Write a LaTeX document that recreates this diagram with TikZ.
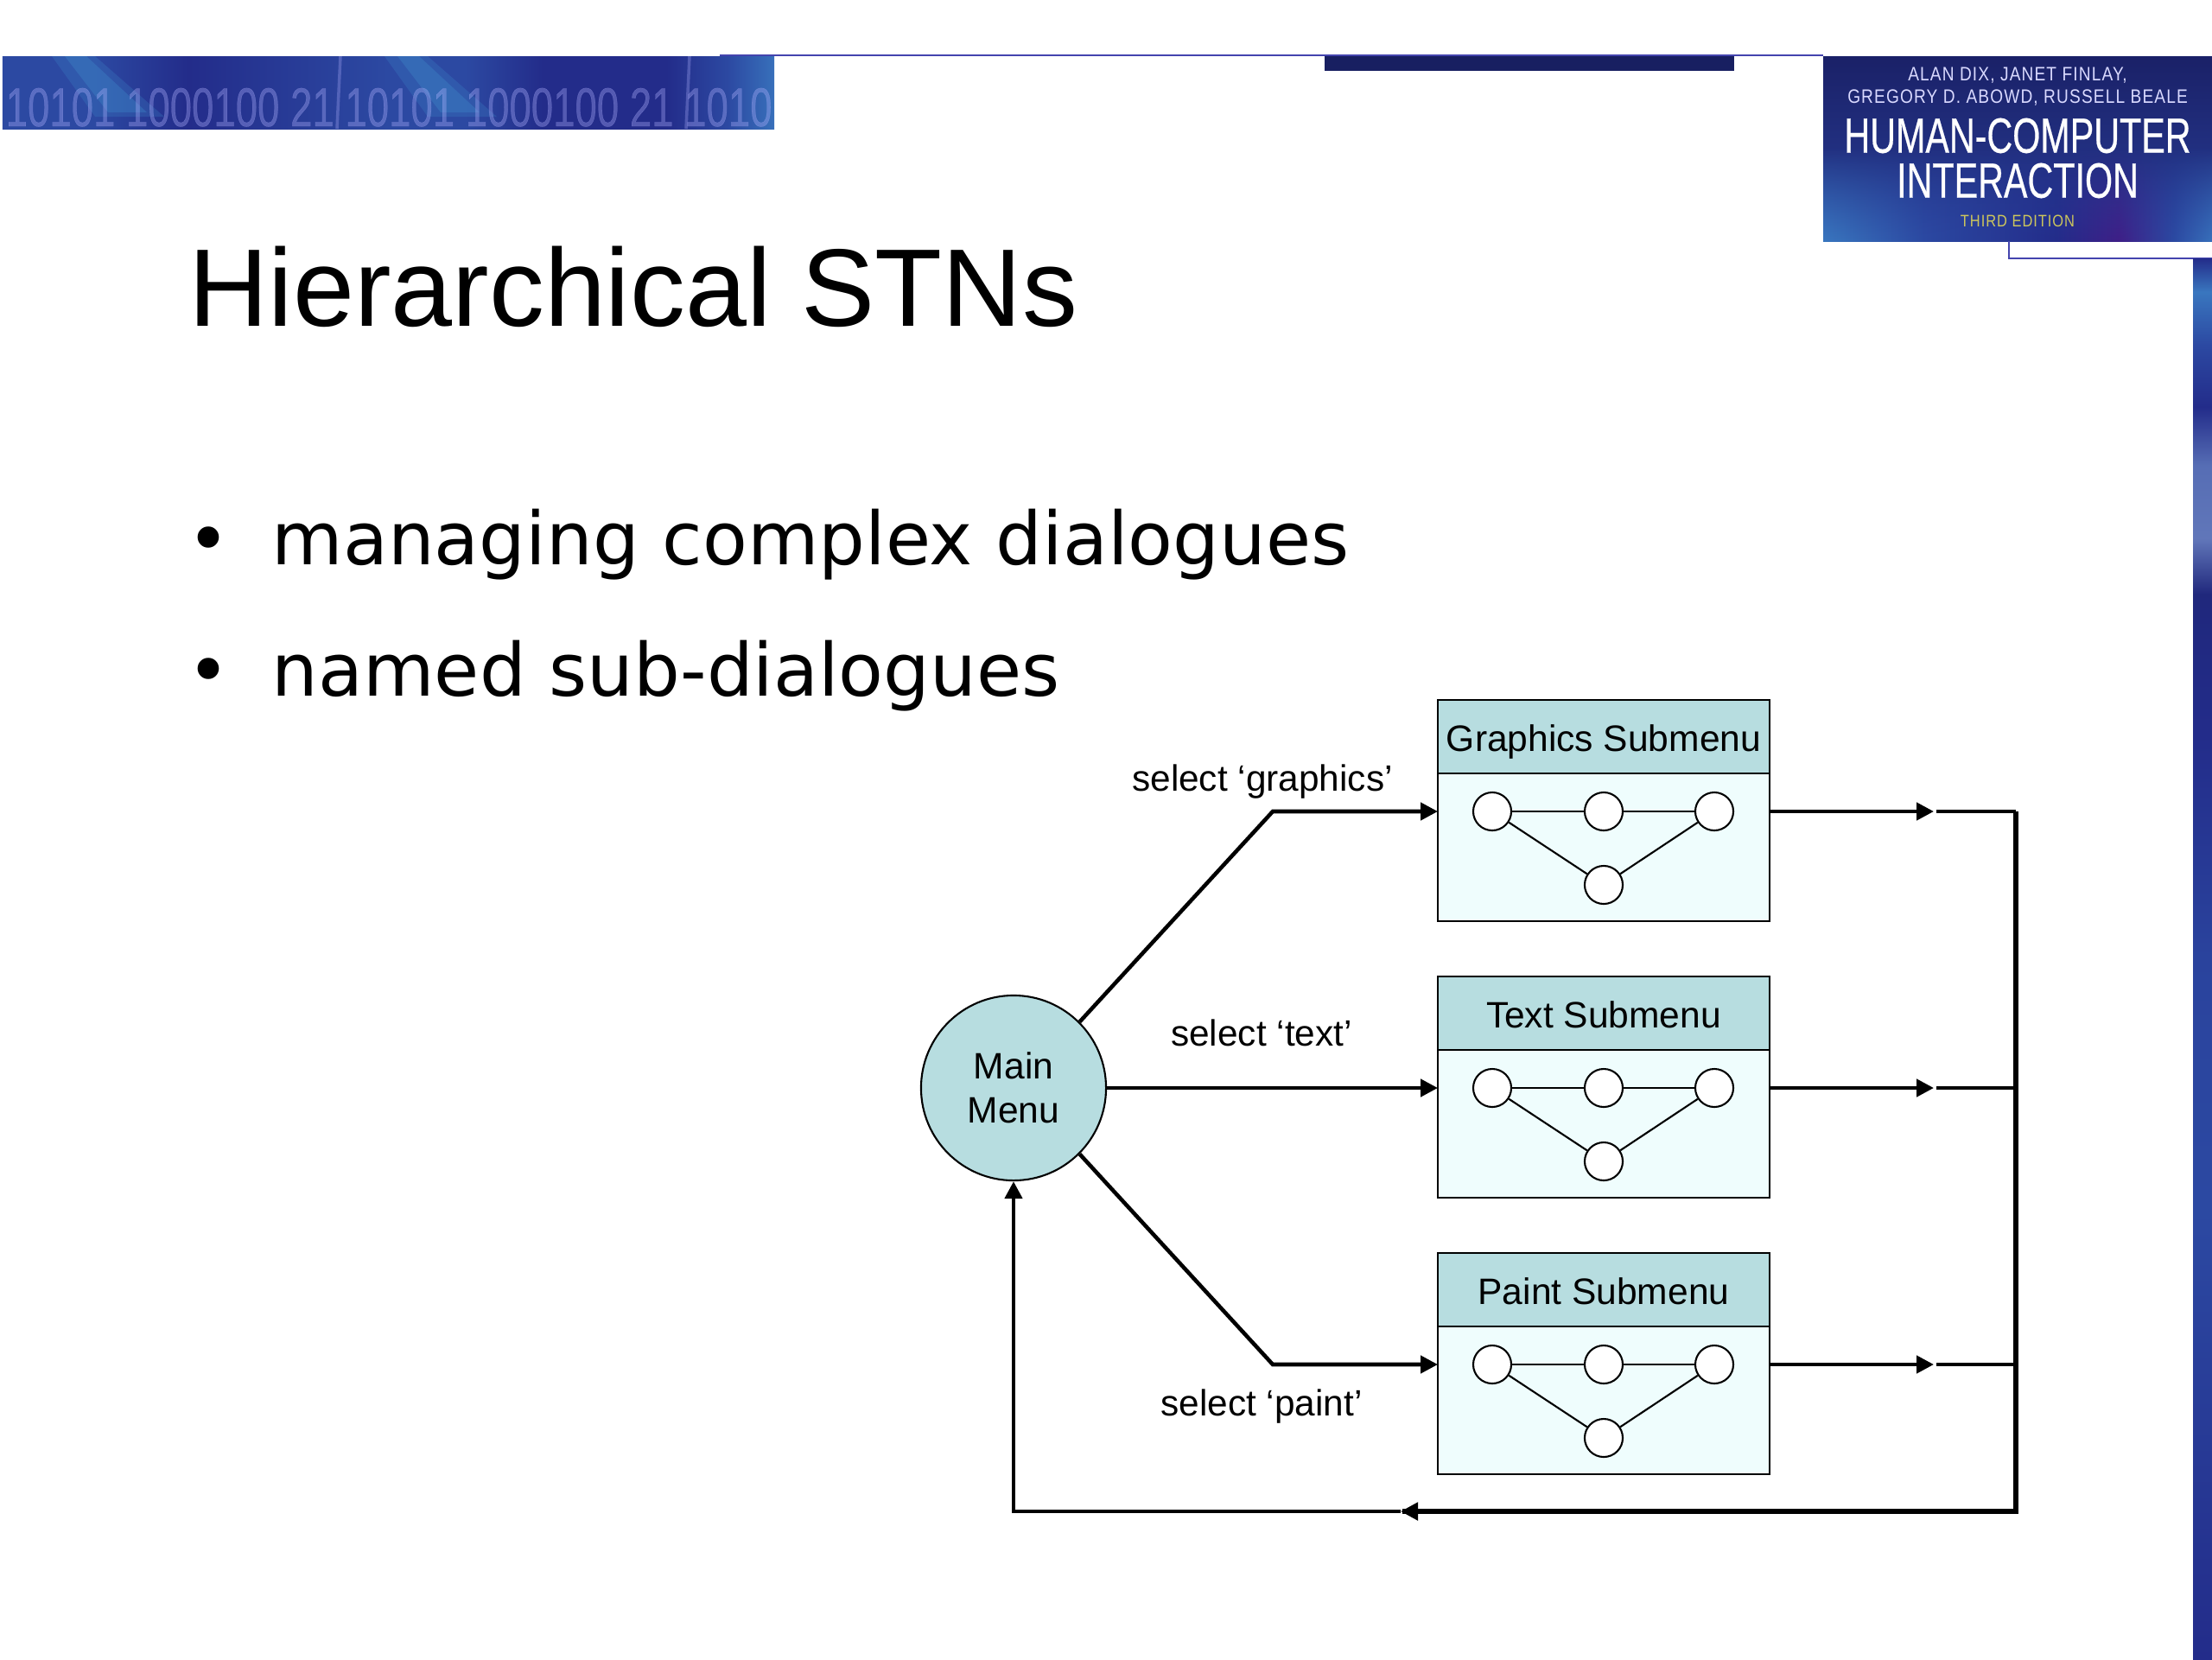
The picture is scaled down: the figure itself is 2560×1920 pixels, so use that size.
\documentclass[tikz,border=0pt]{standalone}
\usepackage{fontspec}
\setmainfont{Liberation Sans}
\newfontfamily\bulletfont{DejaVu Sans}
\newfontfamily\coverfont[FakeStretch=0.72,FakeBold=0.4]{Liberation Sans}
\newfontfamily\authorfont[FakeStretch=0.85,LetterSpace=5]{Liberation Sans}
\usetikzlibrary{arrows.meta,fadings}
\definecolor{headcolor}{HTML}{B7DDE0}
\definecolor{bodycolor}{HTML}{EFFDFD}
\definecolor{rulecolor}{HTML}{4444AE}
\definecolor{bannercolor}{HTML}{2C49A2}
\definecolor{covercolor}{HTML}{232C8A}
\definecolor{streakcolor}{HTML}{3F8ACB}
\pgfdeclarehorizontalshading{bannershade}{100bp}{
	color(0bp)=(bannercolor); color(25bp)=(bannercolor); color(31bp)=(bannercolor);
	color(37bp)=(covercolor); color(46bp)=(bannercolor!70!covercolor); color(50bp)=(bannercolor);
	color(55bp)=(bannercolor); color(60bp)=(covercolor); color(68bp)=(covercolor);
	color(72bp)=(bannercolor); color(75bp)=(streakcolor!60!bannercolor); color(100bp)=(streakcolor!60!bannercolor)}
\pgfdeclareverticalshading{stripshade}{100bp}{
	color(0bp)=(bannercolor); color(25bp)=(covercolor); color(41bp)=(bannercolor);
	color(50bp)=(bannercolor!80!covercolor); color(58bp)=(covercolor);
	color(63bp)=(covercolor!90!black); color(65bp)=(bannercolor!75!white); color(67.6bp)=(bannercolor!80!white);
	color(69.7bp)=(covercolor); color(71.9bp)=(bannercolor); color(73.8bp)=(streakcolor!70!bannercolor);
	color(75bp)=(covercolor); color(100bp)=(covercolor)}
\pgfdeclarehorizontalshading{covershade}{100bp}{
	color(0bp)=(streakcolor!70!bannercolor); color(25bp)=(streakcolor!70!bannercolor); color(38bp)=(bannercolor);
	color(55bp)=(covercolor); color(63bp)=(covercolor!70!violet); color(70bp)=(bannercolor);
	color(75bp)=(streakcolor!60!bannercolor); color(100bp)=(streakcolor!60!bannercolor)}
\tikzset{
	submenuhead/.style={draw=black, line width=0.6pt, fill=headcolor, rectangle, minimum width=3.84cm, minimum height=0.85cm, inner sep=0pt, text height=0.35cm, text depth=0.02cm, font=\fontsize{12.1}{14.5}\selectfont},
	submenubody/.style={draw=black, line width=0.6pt, fill=bodycolor, rectangle, minimum width=3.84cm, minimum height=1.71cm, inner sep=0pt},
	substate/.style={draw=black, line width=0.6pt, fill=white, circle, minimum size=0.44cm, inner sep=0pt},
	subedge/.style={line width=0.6pt},
	flowline/.style={line width=1.3pt, line join=miter},
	trunkline/.style={line width=1.6pt, line join=miter},
	flowarrow/.style={line width=1.3pt, line join=miter, -{Triangle[length=0.2cm, width=0.2cm]}},
	flowlabel/.style={anchor=base, inner sep=0pt, font=\fontsize{12.05}{14.5}\selectfont},
	covertext/.style={inner sep=0pt, text=white, font=\coverfont\fontsize{#1}{#1}\selectfont},
	authortext/.style={inner sep=0pt, text=white!85!blue, font=\authorfont\fontsize{#1}{#1}\selectfont},
}

\begin{document}
\begin{tikzpicture}[x=0.01cm, y=-0.01cm]
			%%%%% START %%%%%
			
			\useasboundingbox (0, 0) rectangle (2560, 1920);
			\fill[white] (0, 0) rectangle (2560, 1920);
			
			\begin{scope}
				\clip (3, 65) rectangle (896, 149);
				\shade[shading=bannershade] (3, 65) rectangle (896, 149);
				\fill[streakcolor, opacity=0.25] (60, 65) -- (110, 65) -- (190, 135) -- (110, 135) -- cycle;
				\fill[streakcolor, opacity=0.35] (75, 65) -- (100, 65) -- (170, 130) -- (125, 130) -- cycle;
				\fill[streakcolor, opacity=0.25] (445, 65) -- (495, 65) -- (575, 135) -- (495, 135) -- cycle;
				\fill[streakcolor, opacity=0.35] (460, 65) -- (485, 65) -- (555, 130) -- (510, 130) -- cycle;
				\draw[line width=1pt, color=blue!30!white, opacity=0.3] (394, 65) -- (390, 149);
				\draw[line width=1pt, color=blue!30!white, opacity=0.3] (798, 65) -- (794, 149);
				\node[anchor=base west, inner sep=0pt, text=blue!30!white, opacity=0.35, font=\coverfont\fontsize{18}{18}\selectfont] (bannerdigits) at (6, 146) {10101 1000100 21 10101 1000100 21 10101};
			\end{scope}
			\draw[line width=0.8pt, color=rulecolor] (833, 64) -- (2110, 64);
			\fill[color=covercolor!70!black] (1533, 65) rectangle (2007, 82);
			
			\shade[top color=covercolor!75!black, bottom color=bannercolor!60!covercolor] (2110, 65) rectangle (2560, 279);
			\shade[shading=covershade, path fading=north] (2110, 170) rectangle (2560, 279);
			\node[authortext=6.4] (authorsa) at (2335, 87) {ALAN DIX, JANET FINLAY,};
			\node[authortext=6.4] (authorsb) at (2335, 113) {GREGORY D. ABOWD, RUSSELL BEALE};
			\node[covertext=16.3] (covertitlea) at (2335, 157) {HUMAN-COMPUTER};
			\node[covertext=16.3] (covertitleb) at (2335, 209) {INTERACTION};
			\node[authortext=5.5, text=yellow!55!gray] (edition) at (2335, 256) {THIRD EDITION};
			\draw[line width=0.8pt, color=rulecolor] (2325, 279) -- (2325, 299) -- (2560, 299);
			\shade[shading=stripshade] (2538, 299) rectangle (2560, 1920);
			
			\node[anchor=base west, inner sep=0pt, font=\fontsize{36.3}{36.3}\selectfont] (title) at (218, 377) {Hierarchical STNs};
			\node[anchor=base, inner sep=0pt, font=\bulletfont\fontsize{24.1}{24.1}\selectfont] (bulleta) at (241, 653) {•};
			\node[anchor=base west, inner sep=0pt, font=\bulletfont\fontsize{24.1}{24.1}\selectfont] (itema) at (314, 653) {managing complex dialogues};
			\node[anchor=base, inner sep=0pt, font=\bulletfont\fontsize{24.1}{24.1}\selectfont] (bulletb) at (241, 805) {•};
			\node[anchor=base west, inner sep=0pt, font=\bulletfont\fontsize{24.1}{24.1}\selectfont] (itemb) at (314, 805) {named sub-dialogues};
			
			\node[draw=black, line width=0.6pt, fill=headcolor, circle, minimum size=2.14cm, inner sep=0pt, align=center, font=\fontsize{12.1}{14.5}\selectfont] (mainmenu) at (1173, 1259) {Main\\Menu};
			
			\node[submenubody] (gbody) at (1856, 980.5) {};
			\node[submenuhead] (ghead) at (1856, 852.5) {Graphics Submenu};
			\node[substate] (ga) at (1727, 939) {};
			\node[substate] (gb) at (1856, 939) {};
			\node[substate] (gc) at (1984, 939) {};
			\node[substate] (gd) at (1856, 1024) {};
			\draw[subedge] (ga) -- (gb);
			\draw[subedge] (gb) -- (gc);
			\draw[subedge] (ga) -- (gd);
			\draw[subedge] (gc) -- (gd);
			
			\node[submenubody] (tbody) at (1856, 1300.5) {};
			\node[submenuhead] (thead) at (1856, 1172.5) {Text Submenu};
			\node[substate] (ta) at (1727, 1259) {};
			\node[substate] (tb) at (1856, 1259) {};
			\node[substate] (tc) at (1984, 1259) {};
			\node[substate] (td) at (1856, 1344) {};
			\draw[subedge] (ta) -- (tb);
			\draw[subedge] (tb) -- (tc);
			\draw[subedge] (ta) -- (td);
			\draw[subedge] (tc) -- (td);
			
			\node[submenubody] (pbody) at (1856, 1620.5) {};
			\node[submenuhead] (phead) at (1856, 1492.5) {Paint Submenu};
			\node[substate] (pa) at (1727, 1579) {};
			\node[substate] (pb) at (1856, 1579) {};
			\node[substate] (pc) at (1984, 1579) {};
			\node[substate] (pd) at (1856, 1664) {};
			\draw[subedge] (pa) -- (pb);
			\draw[subedge] (pb) -- (pc);
			\draw[subedge] (pa) -- (pd);
			\draw[subedge] (pc) -- (pd);
			
			\coordinate (gknee) at (1473, 939);
			\coordinate (pknee) at (1473, 1579);
			\coordinate (gin) at (1664, 939);
			\coordinate (tin) at (1664, 1259);
			\coordinate (pin) at (1664, 1579);
			\coordinate (gout) at (2048, 939);
			\coordinate (tout) at (2048, 1259);
			\coordinate (pout) at (2048, 1579);
			\coordinate (gtip) at (2238, 939);
			\coordinate (ttip) at (2238, 1259);
			\coordinate (ptip) at (2238, 1579);
			\coordinate (gnext) at (2241, 939);
			\coordinate (tnext) at (2241, 1259);
			\coordinate (pnext) at (2241, 1579);
			\coordinate (gright) at (2333, 939);
			\coordinate (tright) at (2333, 1259);
			\coordinate (pright) at (2333, 1579);
			\coordinate (corner) at (2333, 1749);
			\coordinate (backtip) at (1621, 1749);
			\coordinate (backnext) at (1623, 1749);
			\coordinate (backleft) at (1173, 1749);
			
			\draw[flowarrow] (mainmenu.45) -- (gknee) -- (gin);
			\draw[flowarrow] (mainmenu.east) -- (tin);
			\draw[flowarrow] (mainmenu.-45) -- (pknee) -- (pin);
			
			\draw[flowarrow] (gout) -- (gtip);
			\draw[flowarrow] (tout) -- (ttip);
			\draw[flowarrow] (pout) -- (ptip);
			
			\draw[flowline] (gnext) -- (gright);
			\draw[flowline] (tnext) -- (tright);
			\draw[flowline] (pnext) -- (pright);
			\draw[trunkline] (gright) -- (corner) -- (backnext);
			\draw[flowarrow, line width=1.6pt] (corner) -- (backtip);
			\draw[flowarrow] (backtip) -- (backleft) -- (mainmenu.south);
			
			\node[flowlabel] (glabel) at (1461, 915) {select ‘graphics’};
			\node[flowlabel] (tlabel) at (1460, 1210) {select ‘text’};
			\node[flowlabel] (plabel) at (1460, 1638) {select ‘paint’};
			
			%%%%% END %%%%%
		\end{tikzpicture}
\end{document}
